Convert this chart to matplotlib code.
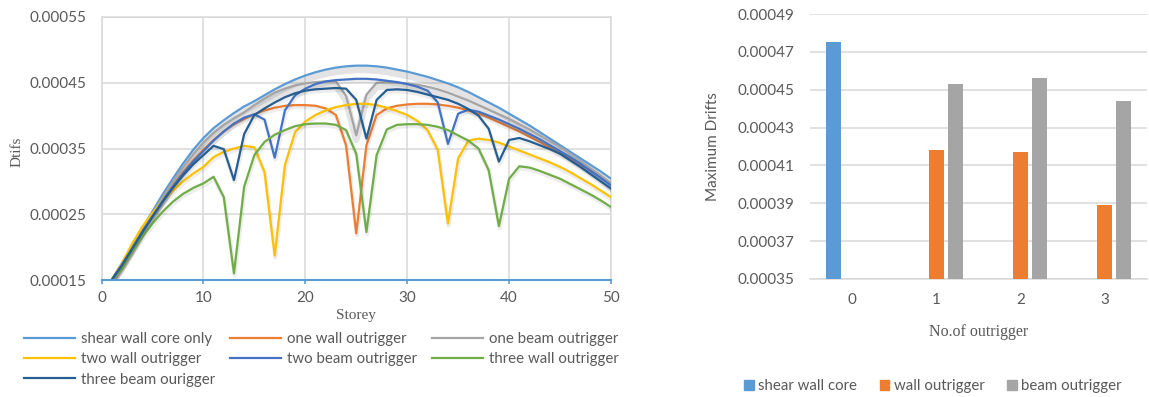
#!/usr/bin/env python3

import numpy as np
import matplotlib
matplotlib.use("Agg")
import matplotlib.pyplot as plt
import matplotlib.patheffects as pe
from matplotlib.patches import Patch
from matplotlib.lines import Line2D


storey = np.arange(1, 51)

shear_wall_core = [
	0.000150, 0.000175, 0.000201, 0.000228, 0.000254, 0.000280, 0.000304, 0.000327, 0.000348, 0.000366,
	0.000381, 0.000393, 0.000404, 0.000414, 0.000422, 0.000431, 0.000440, 0.000448, 0.000455, 0.000461,
	0.000466, 0.000470, 0.000473, 0.000475, 0.000476, 0.000476, 0.000475, 0.000473, 0.000470, 0.000467,
	0.000463, 0.000459, 0.000454, 0.000449, 0.000443, 0.000436, 0.000428, 0.000420, 0.000412, 0.000403,
	0.000394, 0.000385, 0.000375, 0.000365, 0.000355, 0.000345, 0.000335, 0.000325, 0.000315, 0.000304]

one_wall = [
	0.000150, 0.000173, 0.000198, 0.000223, 0.000248, 0.000272, 0.000294, 0.000314, 0.000332, 0.000348,
	0.000363, 0.000376, 0.000387, 0.000395, 0.000402, 0.000408, 0.000412, 0.000415, 0.000416, 0.000416,
	0.000415, 0.000411, 0.000401, 0.000355, 0.000221, 0.000355, 0.000401, 0.000411, 0.000415, 0.000417,
	0.000418, 0.000418, 0.000417, 0.000415, 0.000412, 0.000408, 0.000403, 0.000397, 0.000390, 0.000383,
	0.000376, 0.000368, 0.000360, 0.000352, 0.000343, 0.000334, 0.000325, 0.000316, 0.000307, 0.000297]

one_beam = [
	0.000150, 0.000175, 0.000200, 0.000226, 0.000251, 0.000276, 0.000299, 0.000321, 0.000341, 0.000359,
	0.000374, 0.000386, 0.000396, 0.000405, 0.000416, 0.000426, 0.000435, 0.000441, 0.000446, 0.000449,
	0.000451, 0.000452, 0.000452, 0.000430, 0.000370, 0.000432, 0.000450, 0.000451, 0.000450, 0.000449,
	0.000447, 0.000444, 0.000440, 0.000435, 0.000429, 0.000423, 0.000416, 0.000409, 0.000402, 0.000395,
	0.000387, 0.000379, 0.000370, 0.000361, 0.000352, 0.000342, 0.000331, 0.000320, 0.000309, 0.000297]

two_wall = [
	0.000150, 0.000175, 0.000205, 0.000231, 0.000252, 0.000270, 0.000286, 0.000300, 0.000312, 0.000322,
	0.000337, 0.000345, 0.000350, 0.000354, 0.000352, 0.000314, 0.000187, 0.000325, 0.000375, 0.000391,
	0.000401, 0.000408, 0.000413, 0.000416, 0.000418, 0.000418, 0.000416, 0.000412, 0.000407, 0.000401,
	0.000392, 0.000378, 0.000348, 0.000236, 0.000335, 0.000362, 0.000365, 0.000363, 0.000359, 0.000353,
	0.000347, 0.000341, 0.000335, 0.000329, 0.000322, 0.000314, 0.000305, 0.000296, 0.000286, 0.000276]

two_beam = [
	0.000150, 0.000173, 0.000198, 0.000223, 0.000247, 0.000270, 0.000292, 0.000312, 0.000330, 0.000346,
	0.000362, 0.000376, 0.000388, 0.000397, 0.000402, 0.000394, 0.000336, 0.000408, 0.000431, 0.000441,
	0.000448, 0.000452, 0.000454, 0.000455, 0.000456, 0.000456, 0.000455, 0.000453, 0.000451, 0.000448,
	0.000444, 0.000438, 0.000420, 0.000357, 0.000403, 0.000409, 0.000406, 0.000400, 0.000394, 0.000387,
	0.000380, 0.000372, 0.000364, 0.000355, 0.000346, 0.000337, 0.000327, 0.000316, 0.000305, 0.000294]

three_wall = [
	0.000150, 0.000167, 0.000193, 0.000216, 0.000236, 0.000254, 0.000269, 0.000281, 0.000290, 0.000297,
	0.000307, 0.000276, 0.000160, 0.000292, 0.000340, 0.000360, 0.000371, 0.000378, 0.000384, 0.000387,
	0.000388, 0.000388, 0.000386, 0.000378, 0.000342, 0.000223, 0.000340, 0.000379, 0.000386, 0.000387,
	0.000387, 0.000386, 0.000383, 0.000378, 0.000370, 0.000362, 0.000350, 0.000317, 0.000232, 0.000304,
	0.000323, 0.000321, 0.000316, 0.000310, 0.000304, 0.000296, 0.000288, 0.000280, 0.000271, 0.000261]

three_beam = [
	0.000150, 0.000172, 0.000197, 0.000222, 0.000246, 0.000269, 0.000290, 0.000309, 0.000326, 0.000340,
	0.000354, 0.000349, 0.000302, 0.000372, 0.000401, 0.000411, 0.000420, 0.000428, 0.000434, 0.000438,
	0.000440, 0.000441, 0.000442, 0.000441, 0.000424, 0.000365, 0.000424, 0.000439, 0.000440, 0.000439,
	0.000436, 0.000432, 0.000428, 0.000424, 0.000418, 0.000410, 0.000400, 0.000380, 0.000330, 0.000363,
	0.000366, 0.000361, 0.000355, 0.000349, 0.000342, 0.000332, 0.000322, 0.000311, 0.000300, 0.000289]

series_names = ["shear wall core only", "one wall outrigger", "one beam outrigger", "two wall outrigger",
	"two beam outrigger", "three wall outrigger", "three beam ourigger"]
series_colors = ["#5B9BD5", "#ED7D31", "#A5A5A5", "#FFC000", "#4472C4", "#70AD47", "#255E91"]

# bar chart
n_outrigger = ["0", "1", "2", "3"]
bar_shear_wall = [0.000475, np.nan, np.nan, np.nan]
bar_wall = [np.nan, 0.000418, 0.000417, 0.000389]
bar_beam = [np.nan, 0.000453, 0.000456, 0.000444]

SANS = ["Lato", "DejaVu Sans"]
SERIF = ["Liberation Serif", "DejaVu Serif"]
TXT = "#595959"
GRID = "#D9D9D9"


def		line_chart(fig):
	ax = fig.add_axes([101.5 / 1149, 1 - 280 / 397, 509.5 / 1149, 263 / 397])
	data = [shear_wall_core, one_wall, one_beam, two_wall, two_beam, three_wall, three_beam]
	for i, (vals, name, col) in enumerate(zip(data, series_names, series_colors)):
		effects = [pe.SimpleLineShadow(offset=(0.5, -1.5), shadow_color="black", alpha=0.07, linewidth=3), pe.Normal()]
		if name in ("shear wall core only", "one beam outrigger"):
			effects = [pe.SimpleLineShadow(offset=(0, -3), shadow_color="gray", alpha=0.22, linewidth=5), pe.Normal()]
		ax.plot(storey, vals, color=col, lw=1.6, label=name, path_effects=effects, zorder=3 + i)

	ax.set_xlim(0, 50)
	ax.set_ylim(0.00015, 0.00055)
	ax.set_xticks([0, 10, 20, 30, 40, 50])
	ax.set_yticks([0.00015, 0.00025, 0.00035, 0.00045, 0.00055])
	ax.set_yticklabels(["0.00015", "0.00025", "0.00035", "0.00045", "0.00055"])
	ax.grid(True, color=GRID, lw=1.1)
	ax.set_axisbelow(True)
	for s in ("top", "left", "right"):
		ax.spines[s].set_color(GRID)
		ax.spines[s].set_linewidth(1.1)
	ax.spines["bottom"].set_color("#5B9BD5")
	ax.spines["bottom"].set_linewidth(1.5)
	ax.spines["bottom"].set_zorder(20)
	ax.tick_params(axis="x", colors="#5B9BD5", length=3, width=1.2, pad=5, labelcolor=TXT, labelsize=11)
	ax.tick_params(axis="y", length=0, pad=11, labelcolor=TXT, labelsize=11)
	for lab in ax.get_xticklabels() + ax.get_yticklabels():
		lab.set_family(SANS)

	ax.set_xlabel("Storey", family=SERIF, fontsize=11, color=TXT, va="center")
	ax.xaxis.set_label_coords(0.5, -(316 - 280) / 263)
	ax.set_ylabel("Dtifs", family=SERIF, fontsize=11, color=TXT, va="center")
	ax.yaxis.set_label_coords(-(101.5 - 17) / 509.5, (280 - 152) / 263)

	# Excel fills legend rows first, matplotlib fills columns
	order = [0, 3, 6, 1, 4, 2, 5]
	handles = [Line2D([], [], color=series_colors[i], lw=1.6) for i in order]
	fig.legend(handles, [series_names[i] for i in order], ncol=3,
		loc="upper left", bbox_to_anchor=(24 / 1149, 1 - 332 / 397), frameon=False,
		prop={"family": SANS, "size": 10.8}, labelcolor=TXT, handlelength=3.4, handletextpad=0.4,
		columnspacing=1.0, labelspacing=0.42, borderpad=0, borderaxespad=0)


def		bar_chart(fig):
	ax = fig.add_axes([810 / 1149, 1 - 279 / 397, 337 / 1149, 265 / 397])
	x = np.arange(len(n_outrigger))
	w = 0.178
	off = 0.225
	ax.bar(x - off, bar_shear_wall, w, color="#5B9BD5", label="shear wall core", zorder=3)
	ax.bar(x, bar_wall, w, color="#ED7D31", label="wall outrigger", zorder=3)
	ax.bar(x + off, bar_beam, w, color="#A5A5A5", label="beam outrigger", zorder=3)

	ax.set_xlim(-0.5, 3.5)
	ax.set_ylim(0.00035, 0.00049)
	ticks = [0.00035, 0.00037, 0.00039, 0.00041, 0.00043, 0.00045, 0.00047, 0.00049]
	ax.set_yticks(ticks)
	ax.set_yticklabels(["%.5f" % t for t in ticks])
	ax.set_xticks(x)
	ax.set_xticklabels(n_outrigger)
	ax.grid(True, axis="y", color=GRID, lw=1.1)
	ax.set_axisbelow(True)
	for s in ("top", "left", "right"):
		ax.spines[s].set_visible(False)
	ax.spines["bottom"].set_color(GRID)
	ax.spines["bottom"].set_linewidth(1.1)
	ax.tick_params(axis="both", length=0, labelcolor=TXT, labelsize=11)
	ax.tick_params(axis="y", pad=11)
	ax.tick_params(axis="x", pad=10)
	for lab in ax.get_xticklabels() + ax.get_yticklabels():
		lab.set_family(SANS)

	ax.set_xlabel("No.of outrigger", family=SERIF, fontsize=11.5, color=TXT, va="center")
	ax.xaxis.set_label_coords(0.5, -(332 - 279) / 265)
	ax.set_ylabel("Maximum Drifts", family=SANS, fontsize=11, color=TXT, va="center")
	ax.yaxis.set_label_coords(-(810 - 713) / 337, (279 - 147) / 265)

	handles = [Patch(color="#5B9BD5"), Patch(color="#ED7D31"), Patch(color="#A5A5A5")]
	fig.legend(handles, ["shear wall core", "wall outrigger", "beam outrigger"], ncol=3,
		loc="center", bbox_to_anchor=(933 / 1149, 1 - 386 / 397), frameon=False,
		prop={"family": SANS, "size": 10.8}, labelcolor=TXT, handlelength=0.65, handleheight=0.65,
		handletextpad=0.3, columnspacing=1.5, borderpad=0, borderaxespad=0)


def		main():
	fig = plt.figure(figsize=(11.49, 3.97), dpi=100)
	line_chart(fig)
	bar_chart(fig)
	fig.savefig("out.png", dpi=100)


if __name__ == "__main__":
	main()
